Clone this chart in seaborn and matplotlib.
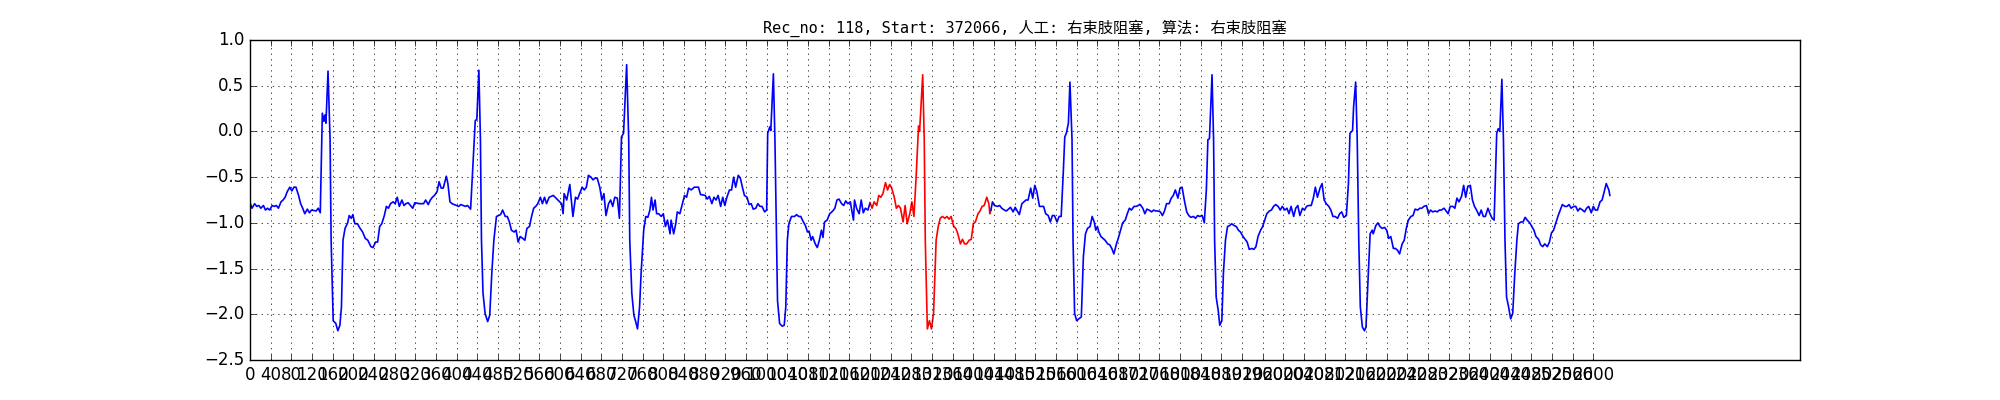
import matplotlib
matplotlib.use("Agg")
import matplotlib.pyplot as plt
import seaborn as sns
import pandas as pd

# ---- data ----
sample_idx = [
    0, 4, 9, 13, 17, 21, 26, 30, 34, 38, 43, 47, 51, 55, 60, 64, 68, 72, 77, 81, 85, 89, 94, 98, 102, 106, 111, 115, 119, 128,
    132, 136, 140, 143, 145, 147, 151, 155, 157, 161, 166, 170, 174, 177, 180, 184, 189, 192, 196, 199, 203, 208, 213, 218, 223,
    228, 234, 238, 243, 247, 251, 255, 260, 264, 268, 272, 277, 281, 285, 289, 294, 298, 302, 306, 315, 319, 328, 336, 340, 345,
    349, 353, 357, 362, 366, 370, 374, 380, 383, 387, 391, 400, 404, 408, 417, 421, 427, 431, 436, 439, 443, 446, 448, 451, 455,
    460, 464, 468, 472, 477, 481, 485, 489, 494, 498, 502, 506, 511, 515, 519, 523, 528, 532, 536, 541, 545, 549, 553, 557, 562,
    566, 570, 574, 579, 587, 596, 603, 606, 608, 613, 619, 625, 630, 634, 638, 643, 647, 651, 655, 660, 664, 668, 672, 677, 681,
    685, 689, 694, 698, 702, 706, 711, 715, 719, 723, 729, 733, 735, 739, 743, 746, 750, 754, 757, 762, 766, 770, 774, 777, 780,
    784, 787, 791, 796, 800, 804, 808, 813, 815, 820, 824, 827, 832, 837, 841, 845, 849, 854, 860, 868, 872, 881, 885, 889, 894,
    898, 902, 906, 911, 915, 919, 923, 928, 932, 936, 940, 945, 949, 953, 957, 962, 966, 970, 974, 979, 983, 987, 991, 996, 1000,
    1002, 1006, 1008, 1013, 1016, 1019, 1021, 1025, 1030, 1034, 1037, 1040, 1043, 1048, 1054, 1058, 1062, 1066, 1071, 1075, 1079,
    1082, 1086, 1089, 1094, 1098, 1102, 1106, 1109, 1112, 1117, 1122, 1128, 1132, 1136, 1140, 1145, 1149, 1153, 1157, 1162, 1164,
    1168, 1170, 1174, 1179, 1183, 1187, 1191, 1196,
    1200, 1204, 1208, 1213, 1217, 1221, 1225, 1230, 1234, 1238, 1242, 1247, 1251, 1255, 1259, 1264, 1268, 1272, 1277, 1281, 1285,
    1289, 1294, 1296, 1302, 1305, 1307, 1311, 1315, 1319, 1323, 1328, 1332, 1336, 1340, 1345, 1349, 1353, 1357, 1362, 1366, 1370,
    1375, 1379, 1383, 1387, 1392, 1396, 1400, 1404, 1409, 1413, 1417, 1421, 1426, 1430, 1432, 1434,
    1437, 1441, 1447, 1451, 1455, 1460, 1464, 1468, 1472, 1477, 1481, 1485, 1489, 1494, 1498, 1502, 1506, 1511, 1515, 1519, 1523,
    1528, 1532, 1536, 1540, 1545, 1549, 1553, 1557, 1562, 1566, 1570, 1574, 1577, 1580, 1584, 1587, 1591, 1593, 1596, 1600, 1604,
    1609, 1613, 1617, 1621, 1626, 1630, 1634, 1637, 1640, 1643, 1647, 1651, 1655, 1660, 1664, 1668, 1672, 1677, 1681, 1685, 1689,
    1694, 1698, 1702, 1706, 1711, 1715, 1719, 1723, 1728, 1732, 1736, 1740, 1745, 1749, 1753, 1757, 1762, 1766, 1770, 1774, 1779,
    1783, 1787, 1791, 1796, 1800, 1804, 1809, 1813, 1817, 1821, 1826, 1830, 1834, 1838, 1843, 1847, 1851, 1854, 1857, 1862, 1865,
    1867, 1870, 1874, 1877, 1881, 1884, 1888, 1892, 1896, 1900, 1905, 1909, 1913, 1917, 1922, 1926, 1930, 1934, 1939, 1943, 1947,
    1951, 1956, 1960, 1964, 1968, 1973, 1977, 1981, 1985, 1990, 1994, 1998, 2003, 2007, 2011, 2015, 2020, 2024, 2028, 2032, 2037,
    2041, 2045, 2049, 2054, 2058, 2062, 2066, 2071, 2075, 2079, 2083, 2088, 2092, 2096, 2100, 2105, 2109, 2113, 2117, 2122, 2126,
    2129, 2134, 2136, 2140, 2143, 2146, 2149, 2153, 2157, 2160, 2163, 2168, 2172, 2174, 2179, 2183, 2187, 2191, 2196, 2200, 2204,
    2208, 2213, 2217, 2221, 2225, 2230, 2234, 2238, 2242, 2247, 2251, 2255, 2260, 2264, 2268, 2272, 2277, 2281, 2285, 2289, 2294,
    2298, 2302, 2306, 2311, 2315, 2319, 2323, 2328, 2332, 2336, 2340, 2345, 2349, 2353, 2357, 2362, 2366, 2370, 2374, 2379, 2383,
    2387, 2391, 2396, 2400, 2404, 2408, 2413, 2416, 2419, 2423, 2426, 2429, 2432, 2436, 2440, 2444, 2448, 2452, 2455, 2460, 2464,
    2468, 2472, 2477, 2481, 2485, 2489, 2494, 2498, 2502, 2506, 2511, 2515, 2519, 2523, 2528, 2532, 2536, 2540, 2545, 2549, 2553,
    2557, 2562, 2566, 2570, 2574, 2579, 2583, 2587, 2591, 2596, 2600, 2604, 2608, 2613, 2617, 2621, 2625, 2630, 2632,
]

amplitude = [
    -0.78, -0.84, -0.79, -0.82, -0.81, -0.84, -0.81, -0.86, -0.84, -0.86, -0.81, -0.82, -0.81, -0.84, -0.77, -0.75, -0.72, -0.66,
    -0.61, -0.65, -0.61, -0.61, -0.70, -0.79, -0.84, -0.90, -0.85, -0.89, -0.86, -0.87,
    -0.84, -0.89, 0.20, 0.11, 0.18, 0.09, 0.66, -0.09, -1.19, -2.07, -2.10, -2.18, -2.12, -1.92, -1.19, -1.06, -1.00, -0.92,
    -0.95, -0.91, -1.01, -1.01, -1.06, -1.10, -1.17,
    -1.19, -1.26, -1.27, -1.21, -1.21, -1.04, -1.01, -0.92, -0.82, -0.84, -0.79, -0.77, -0.79, -0.72, -0.82, -0.75, -0.81, -0.79,
    -0.78, -0.84, -0.78, -0.79, -0.79, -0.75, -0.80,
    -0.75, -0.72, -0.70, -0.66, -0.55, -0.62, -0.62, -0.49, -0.57, -0.77, -0.79, -0.81, -0.82, -0.80, -0.82, -0.81, -0.85, -0.42,
    0.12, 0.13, 0.67, -0.09, -1.19, -1.77, -1.99,
    -2.08, -2.01, -1.55, -1.19, -0.93, -0.92, -0.91, -0.86, -0.93, -0.93, -0.99, -1.08, -1.10, -1.08, -1.21, -1.15, -1.17, -1.19,
    -1.06, -1.04, -0.93, -0.84, -0.82, -0.79, -0.72,
    -0.79, -0.72, -0.79, -0.72, -0.70, -0.75, -0.79, -0.90, -0.68, -0.75, -0.58, -0.93, -0.72, -0.74, -0.68, -0.61, -0.64, -0.61,
    -0.48, -0.50, -0.53, -0.51, -0.51, -0.61, -0.75,
    -0.68, -0.92, -0.79, -0.75, -0.82, -0.72, -0.73, -0.95, -0.06, -0.02, 0.73, -0.09, -1.19, -1.77, -2.01, -2.07, -2.16, -1.92,
    -1.55, -1.08, -0.93, -0.94, -0.86, -0.72, -0.86,
    -0.75, -0.90, -0.90, -0.93, -0.90, -1.04, -0.97, -1.12, -0.97, -1.12, -1.01, -0.88, -0.90, -0.79, -0.70, -0.72, -0.62, -0.64,
    -0.61, -0.61, -0.69, -0.70, -0.74, -0.71, -0.79,
    -0.72, -0.75, -0.70, -0.82, -0.72, -0.81, -0.72, -0.64, -0.64, -0.50, -0.61, -0.48, -0.51, -0.61, -0.70, -0.72, -0.80, -0.79,
    -0.85, -0.84, -0.79, -0.82, -0.82, -0.88, -0.86,
    -0.02, 0.05, 0.01, 0.63, -0.09, -1.19, -1.85, -2.10, -2.13, -2.12, -1.92, -1.19, -1.01, -0.93, -0.93, -0.91, -0.93, -0.93,
    -0.99, -1.03, -1.10,
    -1.09, -1.19, -1.15, -1.23, -1.27, -1.19, -1.08, -1.16, -0.99, -0.97, -0.90, -0.87, -0.84, -0.75, -0.74, -0.79, -0.81, -0.76,
    -0.79, -0.77, -0.84,
    -0.97, -0.75, -0.84, -0.90, -0.75, -0.89, -0.84, -0.86,
    -0.78, -0.84, -0.77, -0.81, -0.70, -0.72, -0.68, -0.56, -0.64, -0.58, -0.62, -0.72, -0.84, -0.81, -0.84, -0.99, -0.81, -1.01,
    -0.90, -0.77, -0.93,
    -0.53, 0.06, 0.00, 0.62, -0.09, -1.19, -2.16, -2.07, -2.16, -1.99, -1.19, -1.04, -0.95, -0.93, -0.95, -0.93, -0.96, -0.93,
    -1.04, -1.06, -1.12,
    -1.23, -1.18, -1.23, -1.23, -1.19, -1.18, -1.01, -0.99, -0.90, -0.87, -0.82, -0.81, -0.72, -0.79, -0.90, -0.86,
    -0.77, -0.81, -0.82, -0.81, -0.84, -0.86, -0.87, -0.85, -0.83, -0.88, -0.83, -0.87, -0.91, -0.79, -0.77, -0.75, -0.75, -0.62,
    -0.73, -0.59, -0.66,
    -0.82, -0.82, -0.82, -0.90, -0.92, -0.99, -0.92, -0.92, -0.99, -0.93, -0.93, -0.46, -0.06, -0.02, 0.09, 0.54, -0.09, -1.19,
    -1.99, -2.07, -2.05,
    -2.03, -1.37, -1.12, -1.06, -1.04, -0.93, -0.99, -1.08, -1.04, -1.10, -1.15, -1.17, -1.19, -1.23, -1.24, -1.28, -1.34, -1.23,
    -1.16, -1.08, -1.00,
    -0.97, -0.90, -0.84, -0.86, -0.82, -0.82, -0.81, -0.80, -0.84, -0.90, -0.85, -0.86, -0.88, -0.86, -0.87, -0.87, -0.88, -0.92,
    -0.87, -0.79, -0.79,
    -0.73, -0.70, -0.64, -0.73, -0.62, -0.61, -0.77, -0.88, -0.92, -0.94, -0.93, -0.95, -0.92, -0.93, -0.92, -1.00, -0.64, -0.09,
    -0.08, 0.62, -0.09,
    -1.19, -1.81, -1.96, -2.12, -2.07, -1.55, -1.19, -1.04, -1.03, -1.01, -1.03, -1.04, -1.08, -1.10, -1.15, -1.18, -1.21, -1.29,
    -1.28, -1.29, -1.26,
    -1.15, -1.08, -1.04, -0.97, -0.90, -0.87, -0.86, -0.82, -0.80, -0.82, -0.86, -0.82, -0.86, -0.84, -0.90, -0.82, -0.93, -0.84,
    -0.81, -0.92, -0.84,
    -0.86, -0.82, -0.81, -0.81, -0.73, -0.61, -0.72, -0.62, -0.57, -0.75, -0.79, -0.82, -0.86, -0.93, -0.93, -0.95, -0.90, -0.88,
    -0.94, -0.92, -0.57,
    -0.02, 0.01, 0.27, 0.54, -0.09, -1.19, -1.92, -2.14, -2.18, -2.14, -1.74, -1.12, -1.08, -1.12, -1.03, -1.00, -1.04, -1.06,
    -1.05, -1.08, -1.17,
    -1.15, -1.28, -1.28, -1.30, -1.34, -1.23, -1.19, -1.06, -0.97, -0.93, -0.92, -0.85, -0.86, -0.84, -0.84, -0.82, -0.81, -0.90,
    -0.86, -0.88, -0.87,
    -0.88, -0.86, -0.86, -0.84, -0.87, -0.90, -0.82, -0.82, -0.84, -0.73, -0.77, -0.71, -0.59, -0.72, -0.60, -0.59, -0.75, -0.82,
    -0.86, -0.92, -0.86,
    -0.93, -0.93, -0.84, -0.90, -0.95, -0.97, -0.02, 0.03, 0.00, 0.57, -0.09, -1.19, -1.81, -1.92, -2.05, -1.99, -1.55, -1.19,
    -1.01, -0.99, -0.99,
    -0.94, -0.97, -1.00, -1.04, -1.08, -1.15, -1.18, -1.24, -1.26, -1.23, -1.26, -1.21, -1.11, -1.08, -0.99, -0.92, -0.86, -0.80,
    -0.82, -0.82, -0.80,
    -0.84, -0.82, -0.82, -0.87, -0.84, -0.86, -0.88, -0.84, -0.82, -0.89, -0.82, -0.86, -0.86, -0.77, -0.75, -0.66, -0.57, -0.64,
    -0.70,
]

manual_start = 1200
manual_end = 1434
xtick_values = list(range(0, 2601, 40))
title_text = "Rec_no: 118, Start: 372066, 人工: 右束肢阻塞, 算法: 右束肢阻塞"

# ---- drawing ----
sns.set_style("ticks", {"axes.grid": False})
plt.style.use("classic")

df = pd.DataFrame({"x": sample_idx, "y": amplitude})
pre = df[df["x"] <= manual_start]
mid = df[(df["x"] >= manual_start) & (df["x"] <= manual_end)]
post = df[df["x"] >= manual_end]

fig = plt.figure(figsize=(20, 4), dpi=100, facecolor="white")
ax = fig.add_axes([0.125, 0.1, 0.775, 0.8])
ax.set_facecolor("white")

for part, col in ((pre, "blue"), (mid, "red"), (post, "blue")):
    sns.lineplot(data=part, x="x", y="y", color=col, linewidth=1.2, sort=False,
                 estimator=None, ax=ax, legend=False)

ax.set_xlim(0, 3000)
ax.set_ylim(-2.5, 1.0)
ax.set_xticks(xtick_values)
ax.set_xticklabels([str(v) for v in xtick_values])
ax.set_yticks([-2.5, -2.0, -1.5, -1.0, -0.5, 0.0, 0.5, 1.0])
ax.set_xlabel("")
ax.set_ylabel("")
ax.grid(True, linestyle=":", color="black", linewidth=0.5)
ax.tick_params(labelsize=12, direction="in", top=True, right=True, length=4)
for sp in ax.spines.values():
    sp.set_color("black")
    sp.set_linewidth(1.0)
ax.set_title(title_text, fontsize=11, family=["DejaVu Sans Mono", "Noto Sans CJK SC"])

fig.savefig("out.png", dpi=100, facecolor="white")
